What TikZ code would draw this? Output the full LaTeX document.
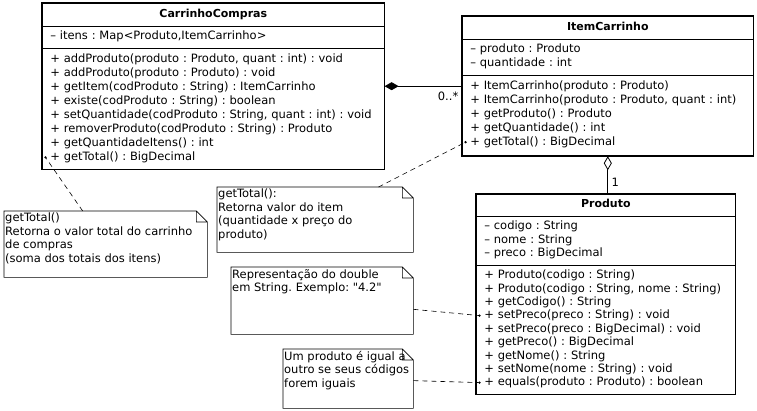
\documentclass[tikz,border=0pt]{standalone}
\usepackage{fontspec}
\setmainfont{DejaVu Sans}[Ligatures=TeXOff]
\usetikzlibrary{positioning, arrows.meta, shapes.multipart}

\newcommand{\notetext}[3]{\parbox[t][#2][t]{#1}{\raggedright #3}}
\newcommand{\umltitle}[1]{\hspace*{\fill}\strut{\fontsize{11}{14}\selectfont\bfseries #1}\hspace*{\fill}\null}

\begin{document}
\frenchspacing
\begin{tikzpicture}[x=1pt, y=-1pt,
  font=\fontsize{11.5}{14}\selectfont\frenchspacing,
  umlclass/.style={draw, line width=0.6pt, rectangle split, rectangle split parts=3,
    anchor=north west, text width=#1, align=left, inner xsep=8pt, inner ysep=4pt},
  umlnote/.style={draw=none, anchor=north west, inner xsep=1pt, inner ysep=2pt,
    font=\fontsize{11.5}{13.5}\selectfont\frenchspacing},
  dep/.style={dash pattern=on 5pt off 4pt, line width=0.6pt},
  assoc/.style={line width=0.8pt}]
  \useasboundingbox (0,0) rectangle (757,411);

  % classes
  \node[umlclass=326pt] (cc) at (42,3) {\umltitle{CarrinhoCompras}
    \nodepart{two}\strut – itens : Map<Produto,ItemCarrinho>\strut
    \nodepart{three}\strut + addProduto(produto : Produto, quant : int) : void\\
    + addProduto(produto : Produto) : void\\
    + getItem(codProduto : String) : ItemCarrinho\\
    + existe(codProduto : String) : boolean\\
    + setQuantidade(codProduto : String, quant : int) : void\\
    + removerProduto(codProduto : String) : Produto\\
    + getQuantidadeItens() : int\\
    + getTotal() : BigDecimal\strut};

  \node[umlclass=275pt] (ic) at (462,16) {\umltitle{ItemCarrinho}
    \nodepart{two}\strut – produto : Produto\\
    – quantidade : int\strut
    \nodepart{three}\strut + ItemCarrinho(produto : Produto)\\
    + ItemCarrinho(produto : Produto, quant : int)\\
    + getProduto() : Produto\\
    + getQuantidade() : int\\
    + getTotal() : BigDecimal\strut\rule[-6pt]{0pt}{6pt}};

  \node[umlclass=243pt, font=\fontsize{11.5}{13.4}\selectfont\frenchspacing] (p) at (476,194)
    {\umltitle{Produto}
    \nodepart{two}\strut – codigo : String\\
    – nome : String\\
    – preco : BigDecimal\strut
    \nodepart{three}\strut + Produto(codigo : String)\\
    + Produto(codigo : String, nome : String)\\
    + getCodigo() : String\\
    + setPreco(preco : String) : void\\
    + setPreco(preco : BigDecimal) : void\\
    + getPreco() : BigDecimal\\
    + getNome() : String\\
    + setNome(nome : String) : void\\
    + equals(produto : Produto) : boolean\strut};

  \foreach \c in {cc, ic, p}
    \draw[line width=1.6pt] (\c.north west) rectangle (\c.south east);

  % marked operations
  \coordinate (ccTotal) at ([xshift=3.5pt, yshift=12pt]cc.south west);
  \coordinate (icTotal) at ([xshift=3.5pt, yshift=14pt]ic.south west);
  \coordinate (pSetPreco) at ([xshift=3.5pt, yshift=79pt]p.south west);
  \coordinate (pEquals) at ([xshift=3.5pt, yshift=12pt]p.south west);
  \foreach \c in {ccTotal, icTotal, pSetPreco, pEquals}
    \fill (\c) circle (1.3pt);

  % notes
  \node[umlnote] (n1) at (4,211) {\notetext{201pt}{62pt}{getTotal()\\
    Retorna o valor total do carrinho\\ de compras\\ (soma dos totais dos itens)}};
  \node[umlnote] (n2) at (217,187) {\notetext{194pt}{61pt}{getTotal():\\
    Retorna valor do item\\ (quantidade x preço do\\ produto)}};
  \node[umlnote] (n3) at (231,267) {\notetext{180pt}{63pt}{Representação do double\\
    em String. Exemplo: "4.2"}};
  \node[umlnote] (n4) at (283,349) {\notetext{128pt}{55pt}{Um produto é igual a\\
    outro se seus códigos\\ forem iguais}};
  \foreach \n in {n1, n2, n3, n4}
    \draw[line width=0.6pt] (\n.north west) -- ([xshift=-11pt]\n.north east)
      -- ([yshift=-11pt]\n.north east) -- (\n.south east) -- (\n.south west) -- cycle
      ([xshift=-11pt]\n.north east) |- ([yshift=-11pt]\n.north east);

  % relations
  \draw[assoc, {Diamond[length=14pt, width=8pt]}-] (cc.east) -- (cc.east -| ic.west)
    node[pos=0.82, below=2pt] {0..*};
  \draw[assoc, {Diamond[open, fill=white, length=14pt, width=8pt]}-] (ic.south) -- (ic.south |- p.north)
    node[pos=0.7, right=0pt] {1};

  \draw[dep] (n1) -- (ccTotal);
  \draw[dep] (n2) -- (icTotal);
  \draw[dep] (n3) -- (pSetPreco);
  \draw[dep] (n4) -- (pEquals);
\end{tikzpicture}
\end{document}
